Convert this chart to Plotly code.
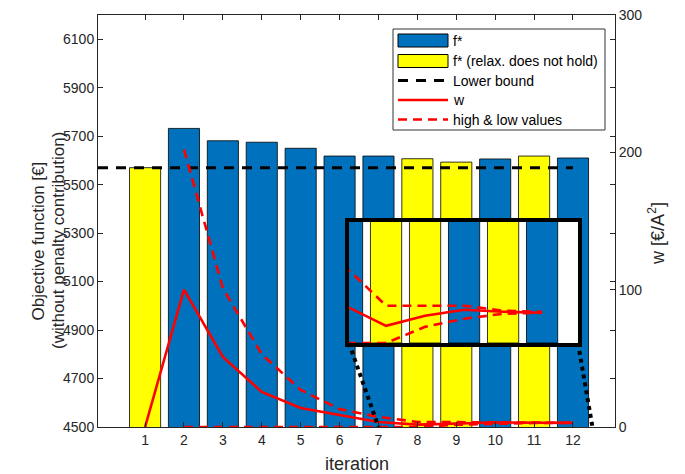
import plotly.graph_objects as go

# ---------------- data ----------------
iterations = list(range(1, 13))
f_star = [5570, 5732, 5681, 5675, 5650, 5618, 5618, 5607, 5593, 5606, 5618, 5610]
relax_holds = [False, True, True, True, True, True, True, False, False, True, False, True]
lower_bound = 5570
lower_bound_x = [-0.21, 12]
w = [0, 100, 51, 25.5, 13.8, 8.7, 3.6, 1.7, 2.7, 3.3, 3.1, 3.0]
w_high = [None, 202, 101, 53, 27, 13, 7.4, 3.7, 3.7, 3.7, 3.2, 3.1]
w_low = [None, 0, 0, 0, 0, 0, 0, 0, 1.6, 2.4, 2.9, 3.0]
left_ticks = [4500, 4700, 4900, 5100, 5300, 5500, 5700, 5900, 6100]
right_ticks = [0, 100, 200, 300]
zoom_region = [7, 12.5]
legend_labels = ["f*", "f* (relax. does not hold)", "Lower bound", "w", "high & low values"]

# ---------------- layout constants ----------------
W, H = 685, 474
ML, MR, MT, MB = 98, 70, 15, 47
PW, PH = W - ML - MR, H - MT - MB
xr_main = [-0.21, 13.08]
yr_main = [4500, 6200]
yr_w = [0, 300]
inset_dom_x = [0.4855, 0.9284]
inset_dom_y = [0.2039, 0.4976]
inset_xr = [7.05, 12.92]
inset_yr = [0, 12]

BLUE = "#0072BD"
YEL = "#FFFF00"
RED = "#FF0000"
AX = "#262626"
FONT = "Liberation Sans, Arial, sans-serif"


def px_x(p):
    return (p - ML) / PW


def px_y(p):
    return (H - MB - p) / PH


blue_x = [i for i, h in zip(iterations, relax_holds) if h]
blue_y = [f for f, h in zip(f_star, relax_holds) if h]
yel_x = [i for i, h in zip(iterations, relax_holds) if not h]
yel_y = [f for f, h in zip(f_star, relax_holds) if not h]

fig = go.Figure()


def add_bars(xa, ya):
    fig.add_trace(go.Bar(x=blue_x, y=blue_y, width=0.8,
                         marker=dict(color=BLUE, line=dict(color="black", width=0.8)),
                         name=legend_labels[0], showlegend=False, xaxis=xa, yaxis=ya))
    fig.add_trace(go.Bar(x=yel_x, y=yel_y, width=0.8,
                         marker=dict(color=YEL, line=dict(color="black", width=0.8)),
                         name=legend_labels[1], showlegend=False, xaxis=xa, yaxis=ya))


def add_lines(xa, ya):
    fig.add_trace(go.Scatter(x=iterations, y=w, mode="lines", line=dict(color=RED, width=2.6),
                             name=legend_labels[3], showlegend=False, xaxis=xa, yaxis=ya))
    for series in (w_high, w_low):
        fig.add_trace(go.Scatter(x=iterations, y=series, mode="lines",
                                 line=dict(color=RED, width=2.6, dash="9px,6px"),
                                 name=legend_labels[4], showlegend=False, xaxis=xa, yaxis=ya))


add_bars("x", "y")
fig.add_trace(go.Scatter(x=lower_bound_x, y=[lower_bound] * len(lower_bound_x), mode="lines",
                         line=dict(color="black", width=3, dash="10px,8px"), name=legend_labels[2],
                         showlegend=False, xaxis="x", yaxis="y"))
add_lines("x", "y2")

# inset (zoom of the last iterations)
add_bars("x3", "y3")
add_lines("x3", "y3")

# zoom connector lines (from the inset corners down to the zoomed x-region)
corner_l = xr_main[0] + inset_dom_x[0] * (xr_main[1] - xr_main[0])
corner_r = xr_main[0] + inset_dom_x[1] * (xr_main[1] - xr_main[0])
corner_y = yr_w[0] + inset_dom_y[0] * (yr_w[1] - yr_w[0])
for cx, zx in [(corner_l, zoom_region[0]), (corner_r, zoom_region[1])]:
    fig.add_shape(type="line", xref="x", yref="y2", x0=cx, y0=corner_y, x1=zx, y1=0,
                  line=dict(color="black", width=4, dash="dot"), layer="above")

# ---------------- legend (drawn like the original, wide swatches) ----------------
LX0, LX1, LY0, LY1 = 393, 605, 29, 130
fig.add_shape(type="rect", xref="paper", yref="paper", x0=px_x(LX0), x1=px_x(LX1),
              y0=px_y(LY1), y1=px_y(LY0), fillcolor="white", line=dict(color="#333333", width=1),
              layer="above")
row_y = [40.5, 61, 80.5, 100, 119.5]
SW0, SW1 = 398, 448
swatches = [("rect", BLUE, None), ("rect", YEL, None), ("line", "black", "10px,8px"),
            ("line", RED, None), ("line", RED, "9px,6px")]
for (kind, col, dash), ry, lab in zip(swatches, row_y, legend_labels):
    if kind == "rect":
        fig.add_shape(type="rect", xref="paper", yref="paper", x0=px_x(SW0), x1=px_x(SW1),
                      y0=px_y(ry + 6.5), y1=px_y(ry - 6.5), fillcolor=col,
                      line=dict(color="black", width=1), layer="above")
    else:
        ln = dict(color=col, width=3 if col == "black" else 2.6)
        if dash:
            ln["dash"] = dash
        fig.add_shape(type="line", xref="paper", yref="paper", x0=px_x(SW0), x1=px_x(SW1),
                      y0=px_y(ry), y1=px_y(ry), line=ln, layer="above")
    fig.add_annotation(text=lab, xref="paper", yref="paper", x=px_x(451), y=px_y(ry),
                       xanchor="left", yanchor="middle", showarrow=False,
                       font=dict(family=FONT, size=14, color="black"))

# ---------------- axis titles ----------------
fig.add_annotation(text="Objective function [€]", xref="paper", yref="paper", x=px_x(37.5), y=px_y(241),
                   xanchor="center", yanchor="middle", textangle=-90, showarrow=False,
                   font=dict(family=FONT, size=17, color=AX))
fig.add_annotation(text="(without penalty contribution)", xref="paper", yref="paper", x=px_x(58),
                   y=px_y(241), xanchor="center", yanchor="middle", textangle=-90, showarrow=False,
                   font=dict(family=FONT, size=17, color=AX))
fig.add_annotation(text="w [€/A<sup>2</sup>]", xref="paper", yref="paper", x=px_x(656), y=px_y(234),
                   xanchor="center", yanchor="middle", textangle=-90, showarrow=False,
                   font=dict(family=FONT, size=18, color=AX))
fig.add_annotation(text="iteration", xref="paper", yref="paper", x=0.5, y=px_y(464),
                   xanchor="center", yanchor="middle", showarrow=False,
                   font=dict(family=FONT, size=18, color=AX))

tickfont = dict(family=FONT, size=14, color=AX)
fig.update_layout(
    width=W, height=H,
    margin=dict(l=ML, r=MR, t=MT, b=MB, autoexpand=False),
    paper_bgcolor="white", plot_bgcolor="white",
    barmode="overlay",
    showlegend=False,
    font=dict(family=FONT, size=14, color=AX),
    xaxis=dict(range=xr_main, tickvals=iterations, ticks="inside", ticklen=5, tickcolor=AX,
               showline=True, linecolor=AX, linewidth=1, mirror="ticks", showgrid=False, zeroline=False,
               tickfont=tickfont, automargin=False),
    yaxis=dict(range=yr_main, tickvals=left_ticks, ticks="inside", ticklen=5, tickcolor=AX,
               showline=True, linecolor=AX, linewidth=1, mirror="ticks", showgrid=False, zeroline=False,
               tickfont=tickfont, automargin=False),
    yaxis2=dict(range=yr_w, overlaying="y", side="right", tickvals=right_ticks, ticks="inside", ticklen=5,
                tickcolor=AX, showline=True, linecolor=AX, linewidth=1, showgrid=False, zeroline=False,
                tickfont=tickfont, automargin=False),
    xaxis3=dict(domain=inset_dom_x, range=inset_xr, anchor="y3", showline=True, linecolor="black",
                linewidth=4, mirror=True, ticks="", showticklabels=False, showgrid=False, zeroline=False,
                automargin=False),
    yaxis3=dict(domain=inset_dom_y, range=inset_yr, anchor="x3", showline=True, linecolor="black",
                linewidth=4, mirror=True, ticks="", showticklabels=False, showgrid=False, zeroline=False,
                automargin=False),
)

fig.write_html("out.html")
